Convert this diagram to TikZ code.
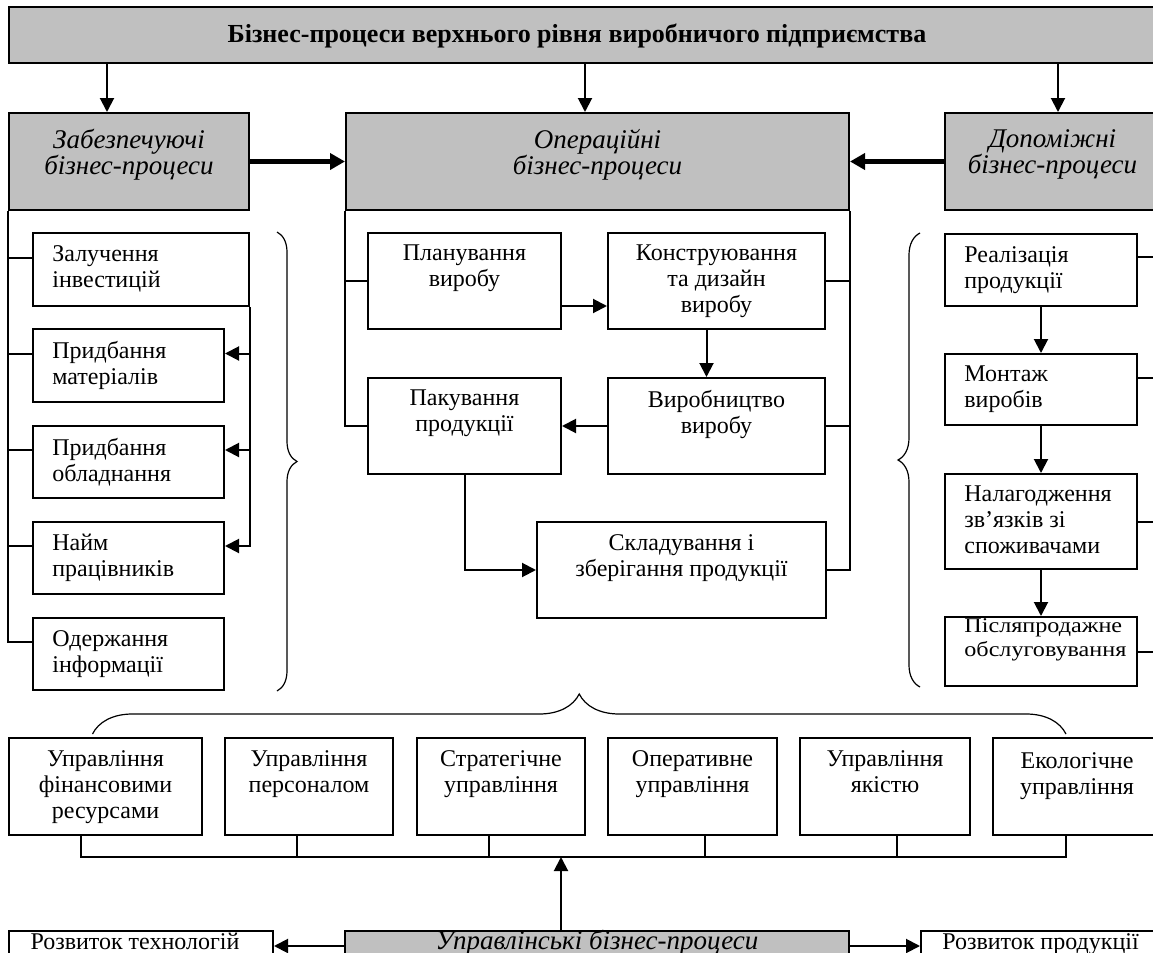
\documentclass[tikz,border=0pt]{standalone}
\usepackage{fontspec}
\setmainfont{Liberation Serif}
\newfontfamily\widefont[FakeStretch=1.15]{Liberation Serif}
\usetikzlibrary{arrows.meta, calc, positioning, decorations.pathreplacing}
\definecolor{procgray}{RGB}{192,192,192}
\newcommand{\procfont}{\fontsize{12}{13}\selectfont}
\newcommand{\grpfont}{\fontsize{13.5}{13}\selectfont\itshape}
\newcommand{\topfont}{\fontsize{13}{14}\selectfont\bfseries}
\newcommand{\smallprocfont}{\widefont\fontsize{10.5}{12}\selectfont}
\tikzset{
  gbox/.style={draw, fill=procgray, line width=1pt, inner sep=0pt},
  wbox/.style={draw, fill=white, line width=1pt, inner sep=0pt},
  ctxt/.style={anchor=north, inner sep=0pt, align=center, font=\procfont, execute at begin node=\strut},
  ltxt/.style={anchor=north west, inner sep=0pt, align=left, font=\procfont, execute at begin node=\strut},
  gtxt/.style={anchor=north, inner sep=0pt, align=center, font=\grpfont, execute at begin node=\strut},
  link/.style={line width=1pt},
  arr/.style={line width=1pt, -{Triangle[length=7pt, width=7pt]}},
  fatarr/.style={line width=2.5pt, -{Triangle[length=7.5pt, width=8pt]}},
  brc/.style={decorate, decoration={brace, amplitude=#1}, line width=0.6pt},
}

\begin{document}
\begin{tikzpicture}[x=0.5pt, y=-0.5pt]
        \fill[white] (0,0) rectangle (1153,953);
        \useasboundingbox (0,0) rectangle (1153,953);

        % top level
        \node[gbox, minimum width=575.5pt, minimum height=28pt] (top) at (584.5,35) {};
        \node[font=\topfont, inner sep=0pt] (topt) at (577,36) {Бізнес-процеси верхнього рівня виробничого підприємства};

        % groups
        \node[gbox, minimum width=120pt, minimum height=48.5pt] (zab) at (129,161.5) {};
        \node[gtxt] (zabt) at ([yshift=-8.4pt]zab.north) {Забезпечуючі\\бізнес-процеси};
        \node[gbox, minimum width=251.5pt, minimum height=48.5pt] (oper) at (597.5,161.5) {};
        \node[gtxt] (opert) at ([yshift=-8.4pt]oper.north) {Операційні\\бізнес-процеси};
        \node[gbox, minimum width=107.5pt, minimum height=48.5pt] (dop) at (1052.5,161.5) {};
        \node[gtxt] (dopt) at ([yshift=-8.4pt]dop.north) {Допоміжні\\бізнес-процеси};

        \draw[arr] ([xshift=-11pt]zab.north |- top.south) -- ([xshift=-11pt]zab.north);
        \draw[arr] ([xshift=-6.25pt]oper.north |- top.south) -- ([xshift=-6.25pt]oper.north);
        \draw[arr] ([xshift=2.75pt]dop.north |- top.south) -- ([xshift=2.75pt]dop.north);
        \draw[fatarr] (zab.east) -- (oper.west);
        \draw[fatarr] (dop.west) -- (oper.east);

        % supporting processes
        \node[wbox, minimum width=108pt, minimum height=36.5pt] (inv) at (141,269.5) {};
        \node[ltxt] (invt) at ([xshift=10pt, yshift=-6.4pt]inv.north west) {Залучення\\інвестицій};
        \node[wbox, minimum width=95.5pt, minimum height=36.5pt] (mat) at (128.5,365.5) {};
        \node[ltxt] (matt) at ([xshift=10pt, yshift=-6.4pt]mat.north west) {Придбання\\матеріалів};
        \node[wbox, minimum width=95.5pt, minimum height=36pt] (obl) at (128.5,462) {};
        \node[ltxt] (oblt) at ([xshift=10pt, yshift=-6.4pt]obl.north west) {Придбання\\обладнання};
        \node[wbox, minimum width=95.5pt, minimum height=36pt] (naim) at (128.5,558) {};
        \node[ltxt] (naimt) at ([xshift=10pt, yshift=-6.4pt]naim.north west) {Найм\\працівників};
        \node[wbox, minimum width=95.5pt, minimum height=36pt] (info) at (128.5,654) {};
        \node[ltxt] (infot) at ([xshift=10pt, yshift=-6.4pt]info.north west) {Одержання\\інформації};

        \draw[link] (zab.south west) |- ([yshift=6pt]info.west);
        \draw[link] ([yshift=6pt]zab.south west |- inv.west) -- ([yshift=6pt]inv.west);
        \draw[link] ([yshift=6pt]zab.south west |- mat.west) -- ([yshift=6pt]mat.west);
        \draw[link] ([yshift=6pt]zab.south west |- obl.west) -- ([yshift=6pt]obl.west);
        \draw[link] ([yshift=6pt]zab.south west |- naim.west) -- ([yshift=6pt]naim.west);
        \draw[arr] (inv.south east) |- ([yshift=6pt]naim.east);
        \draw[arr] ([yshift=6pt]inv.south east |- mat.east) -- ([yshift=6pt]mat.east);
        \draw[arr] ([yshift=6pt]inv.south east |- obl.east) -- ([yshift=6pt]obl.east);
        \draw[brc=10pt] ([xshift=13.5pt]inv.north east) -- ([xshift=13.5pt]inv.north east |- info.south);

        % operational processes
        \node[wbox, minimum width=96.5pt, minimum height=48pt] (plan) at (464.5,281) {};
        \node[ctxt] (plant) at ([yshift=-6.4pt]plan.north) {Планування\\виробу};
        \node[wbox, minimum width=108.5pt, minimum height=48pt] (kons) at (716.5,281) {};
        \node[ctxt] (konst) at ([yshift=-6.4pt]kons.north) {Конструювання\\та дизайн\\виробу};
        \node[wbox, minimum width=108.5pt, minimum height=48pt] (vyr) at (716.5,426) {};
        \node[ctxt] (vyrt) at ([yshift=-6.4pt]vyr.north) {Виробництво\\виробу};
        \node[wbox, minimum width=96.5pt, minimum height=48pt] (pack) at (464.5,426) {};
        \node[ctxt] (packt) at ([yshift=-6.4pt]pack.north) {Пакування\\продукції};
        \node[wbox, minimum width=144.5pt, minimum height=48pt] (skl) at (681.5,570) {};
        \node[ctxt] (sklt) at ([yshift=-6.4pt]skl.north) {Складування і\\зберігання продукції};

        \draw[link] (oper.south west) |- (pack.west);
        \draw[link] (oper.south west |- plan.west) -- (plan.west);
        \draw[link] (oper.south east) |- (skl.east);
        \draw[link] (oper.south east |- kons.east) -- (kons.east);
        \draw[link] (oper.south east |- vyr.east) -- (vyr.east);
        \draw[arr] ([yshift=-12.5pt]plan.east) -- ([yshift=-12.5pt]kons.west);
        \draw[arr] ([xshift=-5pt]kons.south) -- ([xshift=-5pt]vyr.north);
        \draw[arr] (vyr.west) -- (pack.east);
        \draw[arr] (pack.south) |- (skl.west);

        % auxiliary processes
        \node[wbox, minimum width=96pt, minimum height=36pt] (real) at (1041,270) {};
        \node[ltxt] (realt) at ([xshift=10pt, yshift=-6.4pt]real.north west) {Реалізація\\продукції};
        \node[wbox, minimum width=96pt, minimum height=35.5pt] (mont) at (1041,389.5) {};
        \node[ltxt] (montt) at ([xshift=10pt, yshift=-6.4pt]mont.north west) {Монтаж\\виробів};
        \node[wbox, minimum width=96pt, minimum height=47.5pt] (nal) at (1041,521.5) {};
        \node[ltxt] (nalt) at ([xshift=10pt, yshift=-6.4pt]nal.north west) {Налагодження\\зв’язків зі\\споживачами};
        \node[wbox, minimum width=96pt, minimum height=34.5pt] (pisl) at (1041,651.5) {};
        \node[ltxt, font=\smallprocfont] (pislt) at ([xshift=10pt, yshift=-1.2pt]pisl.north west) {Післяпродажне\\обслуговування};

        \draw[link] (dop.south east) |- (pisl.east);
        \draw[link] ([yshift=6.5pt]dop.south east |- real.east) -- ([yshift=6.5pt]real.east);
        \draw[link] ([yshift=5.75pt]dop.south east |- mont.east) -- ([yshift=5.75pt]mont.east);
        \draw[link] (dop.south east |- nal.east) -- (nal.east);
        \draw[arr] (real.south) -- (mont.north);
        \draw[arr] (mont.south) -- (nal.north);
        \draw[arr] (nal.south) -- (pisl.north);
        \draw[brc=11pt] ([xshift=-12pt]pisl.south west) -- ([xshift=-12pt]real.north west);

        % management
        \node[wbox, minimum width=96.5pt, minimum height=48.5pt] (fin) at (105.5,786.5) {};
        \node[ctxt] (fint) at ([yshift=-6.4pt]fin.north) {Управління\\фінансовими\\ресурсами};
        \node[wbox, minimum width=84pt, minimum height=48.5pt] (pers) at (309,786.5) {};
        \node[ctxt] (perst) at ([yshift=-6.4pt]pers.north) {Управління\\персоналом};
        \node[wbox, minimum width=84pt, minimum height=48.5pt] (strat) at (501,786.5) {};
        \node[ctxt] (stratt) at ([yshift=-6.4pt]strat.north) {Стратегічне\\управління};
        \node[wbox, minimum width=84.5pt, minimum height=48.5pt] (opu) at (692.5,786.5) {};
        \node[ctxt] (oput) at ([yshift=-6.4pt]opu.north) {Оперативне\\управління};
        \node[wbox, minimum width=85pt, minimum height=48.5pt] (yak) at (885,786.5) {};
        \node[ctxt] (yakt) at ([yshift=-6.4pt]yak.north) {Управління\\якістю};
        \node[wbox, minimum width=84pt, minimum height=48.5pt] (eko) at (1077,786.5) {};
        \node[ctxt] (ekot) at ([yshift=-7.6pt]eko.north) {Екологічне\\управління};
        \draw[brc=20pt] ($(fin.north)+(-13,-3)$) -- ($(eko.north)+(-11,-3)$);

        \coordinate (bus) at (561,857);
        \draw[link] ([xshift=-12.25pt]fin.south) |- (bus) -| ([xshift=-5.5pt]eko.south);
        \draw[link] ([xshift=-6pt]pers.south) -- ([xshift=-6pt]pers.south |- bus);
        \draw[link] ([xshift=-6pt]strat.south) -- ([xshift=-6pt]strat.south |- bus);
        \draw[link] ([xshift=6.25pt]opu.south) -- ([xshift=6.25pt]opu.south |- bus);
        \draw[link] ([xshift=6pt]yak.south) -- ([xshift=6pt]yak.south |- bus);

        \node[wbox, minimum width=132pt, minimum height=29.5pt] (tech) at (141,960.5) {};
        \node[ctxt] (techt) at ([xshift=-3pt, yshift=-0.6pt]tech.north) {Розвиток технологій};
        \node[gbox, minimum width=252pt, minimum height=29.5pt] (mgmt) at (597,960.5) {};
        \node[gtxt] (mgmtt) at ([yshift=0.2pt]mgmt.north) {Управлінські бізнес-процеси};
        \node[wbox, minimum width=119.5pt, minimum height=29.5pt] (prod) at (1040.5,960.5) {};
        \node[ctxt] (prodt) at ([yshift=-0.6pt]prod.north) {Розвиток продукції};

        \draw[arr] (bus |- mgmt.north) -- (bus);
        \draw[arr] ([yshift=7.25pt]mgmt.west) -- ([yshift=7.25pt]tech.east);
        \draw[arr] ([yshift=7.25pt]mgmt.east) -- ([yshift=7.25pt]prod.west);
\end{tikzpicture}
\end{document}
